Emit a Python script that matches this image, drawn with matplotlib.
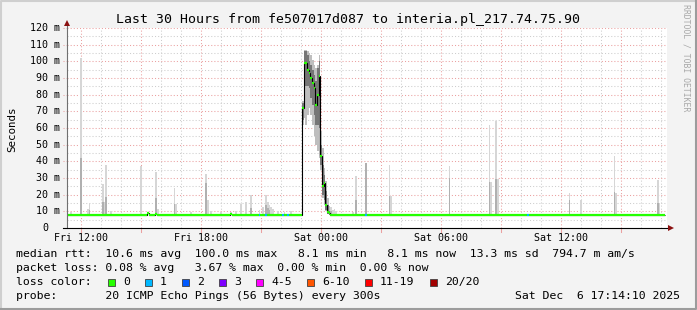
import numpy as np
import matplotlib
matplotlib.use("Agg")
import matplotlib.pyplot as plt
from matplotlib.patches import Rectangle

MONO = "DejaVu Sans Mono"

# ── Data ───────────────────────────────────────────────────────────────
T0 = 11 + 17 / 60          # left edge: Fri 11:17 (hours since Fri 00:00)
SPAN = 30                  # hours shown
STEP = 5 / 60              # one 300 s step
N_STEPS = 359              # last ~2 steps are still unknown
MEDIAN_BASE = 8.1          # ms, flat median outside the spike

x_tick_hours = [12, 18, 24, 30, 36]
x_tick_labels = ["Fri 12:00", "Fri 18:00", "Sat 00:00", "Sat 06:00", "Sat 12:00"]
y_ticks = [0, 10, 20, 30, 40, 50, 60, 70, 80, 90, 100, 110, 120]
y_tick_labels = ["0", "10 m", "20 m", "30 m", "40 m", "50 m", "60 m",
                 "70 m", "80 m", "90 m", "100 m", "110 m", "120 m"]

# big latency spike around midnight (step index, median, smoke range, core)
spike_idx = [141, 142, 143, 144, 145, 146, 147, 148, 149, 150, 151, 152, 153, 154, 155, 156, 157]
spike_median = [72, 99, 99, 95, 93, 90, 87, 84, 74, 80, 91, 43, 25, 27, 14, 9.5, 8.8]
spike_lo = [62, 66, 62, 68, 72, 68, 62, 55, 50, 46, 42, 35, 18, 14, 10, 8.3, 8.1]
spike_hi = [76, 107, 107, 106, 105, 104, 101, 98, 96, 98, 104, 58, 48, 36, 28, 18, 13]
spike_mlo = [65, 88, 85, 85, 84, 78, 74, 68, 62, 62, 60, 38, 20, 17, 11, 8.5, 8.1]
spike_mhi = [75, 106, 106, 104, 100, 98, 95, 92, 88, 96, 100, 50, 38, 32, 22, 14, 10]

# tiny bumps of the median on the flat part
bump_idx = [48, 53, 98]
bump_median = [8.8, 8.6, 8.5]

# smoke spikes on the flat part: max ping and top of the denser band
smoke_idx = [2, 8, 12, 13, 21, 22, 23, 26, 44, 53, 54, 64, 65, 74, 83, 84, 86, 92,
             98, 101, 104, 107, 110, 115, 117, 119, 120, 121, 122, 123, 126, 130, 134,
             158, 159, 160, 161, 171, 173, 179, 193, 194, 229, 253, 254, 257, 258,
             301, 308, 328, 329, 354, 355]
smoke_top = [9.8, 102, 11.4, 15.2, 26.2, 15.8, 37.8, 10, 37.2, 33.8, 11.4, 24.2, 14.2, 9.8,
             32.2, 16.8, 10, 9.4, 9.5, 10, 14.4, 15.8, 19.8, 10.8, 12.8, 19.8, 15.8, 14,
             12.8, 11.5, 10, 9.9, 10, 12.8, 11, 11.5, 10, 9.5, 31.2, 39.2, 37.8, 19.4,
             37.2, 61.8, 27.8, 64.4, 29.2, 21.2, 16.8, 43.2, 21, 28.8, 15]
smoke_mid = [0, 42, 0, 11, 15.8, 0, 18.8, 0, 0, 17.8, 0, 14.2, 0, 0,
             26.8, 0, 0, 0, 0, 0, 0, 0, 12, 0, 0, 14, 12, 11,
             0, 0, 0, 0, 0, 10, 0, 0, 0, 0, 16.8, 39.2, 19.4, 0,
             29.8, 27.8, 0, 29.2, 0, 16.8, 0, 21.8, 0, 15, 0]

# steps with 1/20 packet loss (median drawn in light blue)
loss1_idx = [115, 119, 129, 132, 179, 276]

loss_labels = ["0", "1", "2", "3", "4-5", "6-10", "11-19", "20/20"]
loss_colors = ["#26ff00", "#00b8ff", "#0059ff", "#7e00ff",
               "#ff00ff", "#ff5500", "#ff0000", "#a10000"]

title = "Last 30 Hours from fe507017d087 to interia.pl_217.74.75.90"
row_rtt = ("median rtt:  10.6 ms avg  100.0 ms max   8.1 ms min   "
           "8.1 ms now  13.3 ms sd  794.7 m am/s")
row_loss = "packet loss: 0.08 % avg   3.67 % max  0.00 % min  0.00 % now"
row_probe = "probe:       20 ICMP Echo Pings (56 Bytes) every 300s"
stamp = "Sat Dec  6 17:14:10 2025"

# ── Style ───────────────────────────────────────────────────────────────
BG = "#F3F3F3"
RED_GRID = "#EBA0A0"
GRAY_GRID = "#CDCDCD"
GRID_LS = (0, (1, 2))
SMOKE_LIGHT = "#D6D6D6"
SMOKE_MID = "#B0B0B0"
SPIKE_LIGHT = "#BEBEBE"
SPIKE_MID = "#767676"
ARROW = "#8B1010"
W, H = 697, 310
PX_X = SPAN / 600          # hours per pixel
PX_Y = 120 / 200           # ms per pixel

fig = plt.figure(figsize=(W / 100, H / 100), dpi=100)
fig.patch.set_facecolor(BG)

# pixel canvas for frame and legend text
bg = fig.add_axes([0, 0, 1, 1], zorder=0)
bg.set_xlim(0, W)
bg.set_ylim(H, 0)
bg.axis("off")
bg.plot([1, 1, W - 1], [H - 1, 1, 1], color="#CFCFCF", lw=1.5)
bg.plot([1, W - 1, W - 1], [H - 1, H - 1, 1], color="#9C9C9C", lw=1.5)

ax = fig.add_axes([67 / W, (H - 228) / H, 600 / W, 200 / H], zorder=1)
ax.set_xlim(T0, T0 + SPAN)
ax.set_ylim(0, 120)
ax.set_facecolor("white")
for s in ax.spines.values():
    s.set_visible(False)
ax.set_xticks([])
ax.set_yticks([])

# grid: hourly gray, 3-hourly red; 5 ms gray, 10 ms red
for h in range(12, int(T0 + SPAN) + 1):
    ax.axvline(h, color=RED_GRID if h % 3 == 0 else GRAY_GRID,
               lw=0.75, ls=GRID_LS, zorder=0)
    if h % 3 == 0:
        ax.plot([h, h], [0, -2.4], color=RED_GRID, lw=0.75, clip_on=False, zorder=0)
for v in range(5, 121, 5):
    major = v % 10 == 0
    ax.axhline(v, color=RED_GRID if major else GRAY_GRID,
               lw=0.75, ls=GRID_LS, zorder=0)
    if major:
        ax.plot([T0 - 4 * PX_X, T0], [v, v], color=RED_GRID, lw=0.75,
                ls=GRID_LS, clip_on=False, zorder=0)

# smoke on the flat part
s_left = T0 + np.asarray(smoke_idx) * STEP
s_top = np.asarray(smoke_top, dtype=float)
s_mid = np.asarray(smoke_mid, dtype=float)
ax.bar(s_left, s_top - MEDIAN_BASE, bottom=MEDIAN_BASE, width=STEP, align="edge",
       color=SMOKE_LIGHT, lw=0, zorder=2)
has_mid = s_mid > 0
ax.bar(s_left[has_mid], s_mid[has_mid] - MEDIAN_BASE, bottom=MEDIAN_BASE, width=STEP,
       align="edge", color=SMOKE_MID, lw=0, zorder=2)

# smoke of the spike
p_left = T0 + np.asarray(spike_idx) * STEP
p_lo, p_hi = np.asarray(spike_lo, float), np.asarray(spike_hi, float)
p_mlo, p_mhi = np.asarray(spike_mlo, float), np.asarray(spike_mhi, float)
ax.bar(p_left, p_hi - p_lo, bottom=p_lo, width=STEP, align="edge",
       color=SPIKE_LIGHT, lw=0, zorder=2)
ax.bar(p_left, p_mhi - p_mlo, bottom=p_mlo, width=STEP, align="edge",
       color=SPIKE_MID, lw=0, zorder=2)

# median: thin black steps, loss-coloured flats on top
median = np.full(N_STEPS, MEDIAN_BASE)
median[spike_idx] = spike_median
median[bump_idx] = bump_median
edges = T0 + np.arange(N_STEPS + 1) * STEP
ax.stairs(median, edges, baseline=None, color="black", lw=0.8, zorder=3)
seg_colors = [loss_colors[1] if i in loss1_idx else loss_colors[0] for i in range(N_STEPS)]
ax.hlines(median, edges[:-1], edges[1:], colors=seg_colors, lw=1.6, zorder=4)

# axes with arrows
ax.plot([T0, T0], [0, 122.5], color="#707070", lw=0.8, clip_on=False, zorder=5)
ax.plot([T0 - 4 * PX_X, T0 + SPAN + 2 * PX_X], [0, 0], color="black", lw=0.8,
        clip_on=False, zorder=5)
ax.plot(T0, 123.0, marker="^", ms=4.5, mew=0, color=ARROW, clip_on=False, zorder=6)
ax.plot(T0 + SPAN + 4 * PX_X, 0, marker=">", ms=4.5, mew=0, color=ARROW,
        clip_on=False, zorder=6)

# tick labels
for h, lab in zip(x_tick_hours, x_tick_labels):
    ax.text(h, -10 * PX_Y, lab, ha="center", va="center", fontsize=7.2,
            family=MONO, clip_on=False)
for v, lab in zip(y_ticks, y_tick_labels):
    shift = 7 if lab.endswith("m") else 19
    ax.text(T0 - shift * PX_X, v, lab, ha="right", va="center", fontsize=7.2,
            family=MONO, clip_on=False)

# titles and side texts
bg.text(348.5, 19, title, ha="center", va="center", fontsize=9.57, family=MONO)
bg.text(12, 129, "Seconds", rotation=90, ha="center", va="center",
        fontsize=7.8, family=MONO)
bg.text(686, 4, "RRDTOOL / TOBI OETIKER", rotation=270, ha="center", va="top",
        fontsize=5.9, family=MONO, color="#A8A8A8")

# legend rows
LEG = 8.25
bg.text(16, 254, row_rtt, ha="left", va="center", fontsize=LEG, family=MONO)
bg.text(16, 268, row_loss, ha="left", va="center", fontsize=LEG, family=MONO)
bg.text(16, 282, "loss color:", ha="left", va="center", fontsize=LEG, family=MONO)
bg.text(16, 296, row_probe, ha="left", va="center", fontsize=LEG, family=MONO)
bg.text(680, 296, stamp, ha="right", va="center", fontsize=LEG, family=MONO)

bx = 108
for lab, col in zip(loss_labels, loss_colors):
    bg.add_patch(Rectangle((bx, 278.8), 7, 7, facecolor=col, edgecolor="#404040", lw=0.6))
    bg.text(bx + 15, 282, lab, ha="left", va="center", fontsize=LEG, family=MONO)
    bx += 30 + 7 * len(lab)

fig.savefig("out.png", dpi=100, facecolor=BG)
